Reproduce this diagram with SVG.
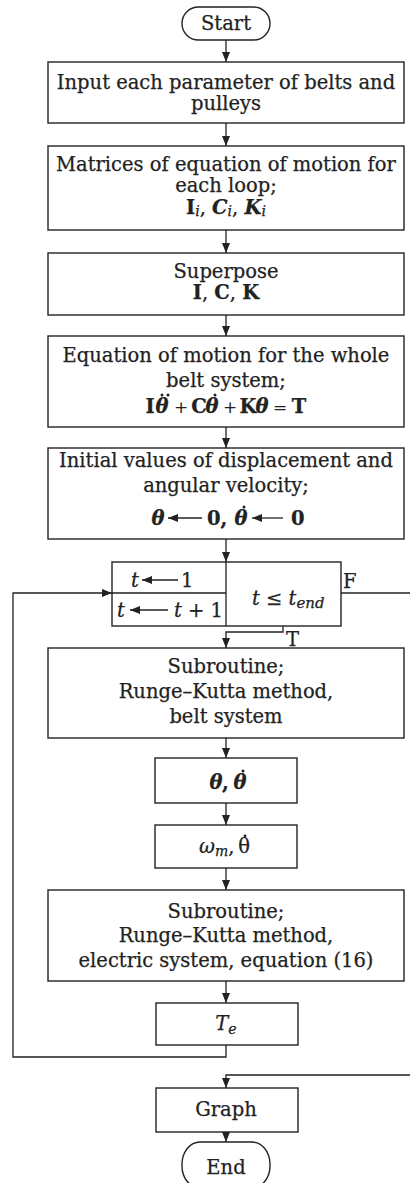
<svg xmlns="http://www.w3.org/2000/svg" width="410" height="1183" viewBox="0 0 410 1183">
<style>
text{font-family:"DejaVu Serif","Liberation Serif",serif;font-size:19.5px;fill:#222;stroke:#222;stroke-width:0.25}
.c{text-anchor:middle}
.b{font-weight:bold}
.i{font-style:italic}
.bi{font-weight:bold;font-style:italic}
.op{font-size:17px;stroke-width:0.1}
.box{fill:#fff;stroke:#222;stroke-width:1.4}
.ln{fill:none;stroke:#222;stroke-width:1.3}
.ia{fill:none;stroke:#222;stroke-width:1.3}
.dot{fill:#222}
</style>
<defs>
<marker id="ah" markerUnits="userSpaceOnUse" markerWidth="10" markerHeight="8" refX="10" refY="4" orient="auto"><path d="M0,0 L10,4 L0,8 z" fill="#222"/></marker>
<marker id="sa" markerUnits="userSpaceOnUse" markerWidth="10" markerHeight="8" refX="0" refY="4" orient="auto"><path d="M10,0 L0,4 L10,8 z" fill="#222"/></marker>
</defs>
<g id="connectors">
<path class="ln" d="M226,40 V62" marker-end="url(#ah)"/>
<path class="ln" d="M226,123 V146" marker-end="url(#ah)"/>
<path class="ln" d="M226,230 V253" marker-end="url(#ah)"/>
<path class="ln" d="M226,315 V336" marker-end="url(#ah)"/>
<path class="ln" d="M226,427 V448" marker-end="url(#ah)"/>
<path class="ln" d="M226,539 V562" marker-end="url(#ah)"/>
<path class="ln" d="M283,626 V632 H226 V648" marker-end="url(#ah)"/>
<path class="ln" d="M226,738 V758" marker-end="url(#ah)"/>
<path class="ln" d="M226,803 V825" marker-end="url(#ah)"/>
<path class="ln" d="M226,868 V890" marker-end="url(#ah)"/>
<path class="ln" d="M226,981 V1003" marker-end="url(#ah)"/>
<path class="ln" d="M226,1045 V1057 H13 V593 H112" marker-end="url(#ah)"/>
<path class="ln" d="M341,593 H410"/>
<path class="ln" d="M410,1075 H226 V1088" marker-end="url(#ah)"/>
<path class="ln" d="M226,1132 V1142" marker-end="url(#ah)"/>
<text x="343" y="588">F</text>
<text x="286" y="646">T</text>
</g>
<g id="start">
<rect class="box" x="182" y="7" width="88" height="33" rx="16.5"/>
<text class="c" x="226" y="30">Start</text>
</g>
<g id="input">
<rect class="box" x="48" y="62" width="356" height="61"/>
<text class="c" x="226" y="89">Input each parameter of belts and</text>
<text class="c" x="226" y="110">pulleys</text>
</g>
<g id="matrices">
<rect class="box" x="48" y="146" width="356" height="84"/>
<text class="c" x="226" y="171">Matrices of equation of motion for</text>
<text class="c" x="226" y="192">each loop;</text>
<text class="c" x="226" y="214"><tspan class="b">I</tspan><tspan class="i" font-size="14" dy="2">i</tspan><tspan dy="-2">, </tspan><tspan class="bi">C</tspan><tspan class="i" font-size="14" dy="2">i</tspan><tspan dy="-2">, </tspan><tspan class="bi">K</tspan><tspan class="i" font-size="14" dy="2">i</tspan></text>
</g>
<g id="superpose">
<rect class="box" x="48" y="253" width="356" height="62"/>
<text class="c" x="226" y="278">Superpose</text>
<text class="c" x="226" y="299"><tspan class="b">I</tspan>, <tspan class="b">C</tspan>, <tspan class="b">K</tspan></text>
</g>
<g id="eom">
<rect class="box" x="48" y="336" width="356" height="91"/>
<text class="c" x="226" y="362">Equation of motion for the whole</text>
<text class="c" x="226" y="387">belt system;</text>
<text class="c b" x="150" y="413">I</text>
<text class="c bi" x="162" y="413">θ</text>
<circle class="dot" cx="162" cy="395" r="1.5"/>
<circle class="dot" cx="168" cy="395" r="1.5"/>
<text class="c op" x="181" y="413">+</text>
<text class="c b" x="199" y="413">C</text>
<text class="c bi" x="212" y="413">θ</text>
<circle class="dot" cx="215" cy="395" r="1.5"/>
<text class="c op" x="230" y="413">+</text>
<text class="c b" x="248" y="413">K</text>
<text class="c bi" x="262" y="413">θ</text>
<text class="c op" x="280" y="413">=</text>
<text class="c b" x="299" y="413">T</text>
</g>
<g id="init">
<rect class="box" x="48" y="448" width="356" height="91"/>
<text class="c" x="226" y="467">Initial values of displacement and</text>
<text class="c" x="226" y="492">angular velocity;</text>
<text class="c bi" x="158" y="525">θ</text>
<path class="ia" d="M168,518 H202" marker-start="url(#sa)"/>
<text class="b" x="207" y="525">0,</text>
<text class="c bi" x="241" y="525">θ</text>
<circle class="dot" cx="244" cy="507" r="1.5"/>
<path class="ia" d="M252,518 H283" marker-start="url(#sa)"/>
<text class="b" x="291" y="525">0</text>
</g>
<g id="loop">
<rect class="box" x="112" y="562" width="229" height="64"/>
<path class="ln" d="M226,562 V626 M112,593 H226"/>
<text class="i" x="131" y="587">t</text>
<path class="ia" d="M142,580 H178" marker-start="url(#sa)"/>
<text x="181" y="587">1</text>
<text class="i" x="117" y="617">t</text>
<path class="ia" d="M130,610 H168" marker-start="url(#sa)"/>
<text x="174" y="617"><tspan class="i">t</tspan> + 1</text>
<text x="252" y="605"><tspan class="i">t</tspan> ≤ <tspan class="i">t</tspan><tspan class="i" font-size="15" dy="3">end</tspan></text>
</g>
<g id="rk-belt">
<rect class="box" x="48" y="648" width="356" height="90"/>
<text class="c" x="226" y="673">Subroutine;</text>
<text class="c" x="226" y="698">Runge–Kutta method,</text>
<text class="c" x="226" y="723">belt system</text>
</g>
<g id="theta">
<rect class="box" x="155" y="758" width="142" height="45"/>
<text class="c bi" x="216" y="789">θ</text>
<text class="b" x="222" y="789">,</text>
<text class="c bi" x="240" y="789">θ</text>
<circle class="dot" cx="243" cy="771" r="1.5"/>
</g>
<g id="omega">
<rect class="box" x="155" y="825" width="142" height="43"/>
<text x="199" y="853"><tspan class="i">ω</tspan><tspan class="i" font-size="14" dy="3">m</tspan><tspan dy="-3">,</tspan></text>
<text class="c" x="244" y="853">θ</text>
<circle class="dot" cx="245" cy="836" r="1.4"/>
</g>
<g id="rk-elec">
<rect class="box" x="48" y="890" width="356" height="91"/>
<text class="c" x="226" y="918">Subroutine;</text>
<text class="c" x="226" y="942">Runge–Kutta method,</text>
<text class="c" x="226" y="967">electric system, equation (16)</text>
</g>
<g id="te">
<rect class="box" x="156" y="1003" width="142" height="42"/>
<text class="c" x="226" y="1030"><tspan class="i">T</tspan><tspan class="i" font-size="14" dy="4">e</tspan></text>
</g>
<g id="graph">
<rect class="box" x="156" y="1088" width="142" height="44"/>
<text class="c" x="226" y="1116">Graph</text>
</g>
<g id="end">
<rect class="box" x="182" y="1142" width="88" height="46" rx="18" ry="22"/>
<text class="c" x="226" y="1174">End</text>
</g>
</svg>
